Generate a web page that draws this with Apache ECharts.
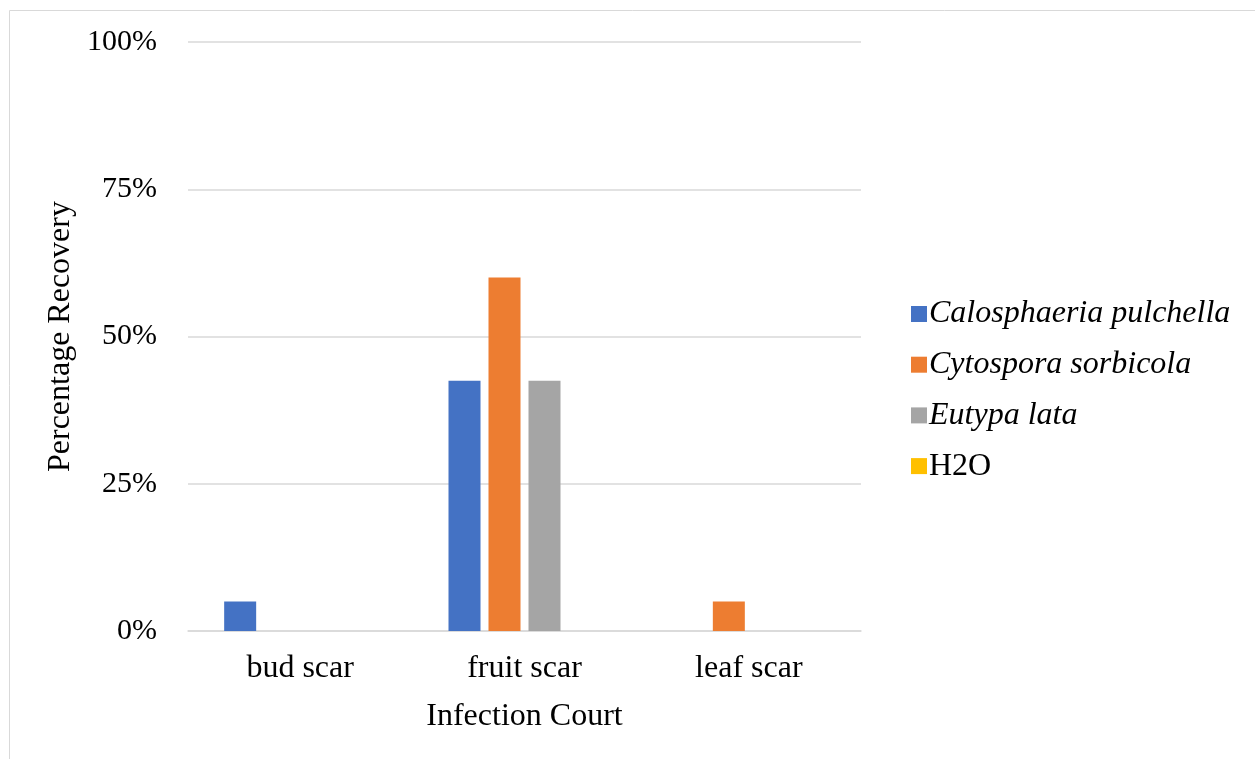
<!DOCTYPE html>
<html>
<head>
<meta charset="utf-8">
<script src="https://cdn.jsdelivr.net/npm/echarts@6/dist/echarts.min.js"></script>
<style>
  html, body { margin: 0; padding: 0; background: #fff; }
  #chart { width: 1255px; height: 759px; }
</style>
</head>
<body>
<div id="chart"></div>
<script>
// categories and values (percent)
const categories = ['bud scar', 'fruit scar', 'leaf scar'];
const seriesNames = ['Calosphaeria pulchella', 'Cytospora sorbicola', 'Eutypa lata', 'H2O'];
const calosphaeria = [5, 42.5, 0];
const cytospora = [0, 60, 5];
const eutypa = [0, 42.5, 0];
const h2o = [0, 0, 0];
const yTicks = [0, 25, 50, 75, 100];

const colors = ['#4472C4', '#ED7D31', '#A5A5A5', '#FFC000'];
const font = '"Liberation Serif", "Times New Roman", serif';
const italicNames = ['Calosphaeria pulchella', 'Cytospora sorbicola', 'Eutypa lata'];

const chart = echarts.init(document.getElementById('chart'));

const allValues = [calosphaeria, cytospora, eutypa, h2o];

let option = {
    animation: false,
    color: colors,
    textStyle: { fontFamily: font },
    graphic: [{
        type: 'rect',
        shape: { x: 9.5, y: 10.5, width: 2000, height: 2000 },
        style: { fill: 'none', stroke: '#d9d9d9', lineWidth: 1 },
        silent: true
    }],
    grid: {
        left: 188,
        right: 394,
        top: 42,
        bottom: 128
    },
    legend: {
        orient: 'vertical',
        left: 906,
        top: 293,
        itemWidth: 16,
        itemHeight: 16,
        itemGap: 18.7,
        icon: 'rect',
        data: seriesNames,
        formatter: function (name) {
            return italicNames.indexOf(name) >= 0 ? '{i|' + name + '}' : '{n|' + name + '}';
        },
        textStyle: {
            fontFamily: font,
            fontSize: 32,
            color: '#000',
            padding: [0, 0, 0, -3],
            rich: {
                i: { fontFamily: font, fontSize: 32, fontStyle: 'italic', color: '#000', lineHeight: 33 },
                n: { fontFamily: font, fontSize: 32, color: '#000', lineHeight: 33 }
            }
        }
    },
    xAxis: {
        type: 'category',
        data: categories,
        name: 'Infection Court',
        nameLocation: 'middle',
        nameGap: 70,
        nameTextStyle: { fontFamily: font, fontSize: 32, color: '#000' },
        axisLine: { lineStyle: { color: '#d9d9d9', width: 1.5 } },
        axisTick: { show: false },
        axisLabel: { fontFamily: font, fontSize: 32, color: '#000', margin: 22 }
    },
    yAxis: {
        type: 'value',
        min: 0,
        max: 100,
        interval: 25,
        name: 'Percentage Recovery',
        nameLocation: 'middle',
        nameGap: 106,
        nameTextStyle: { fontFamily: font, fontSize: 32, color: '#000' },
        axisLine: { show: false },
        axisTick: { show: false },
        splitLine: { lineStyle: { color: '#d9d9d9', width: 1.5 } },
        axisLabel: {
            fontFamily: font,
            fontSize: 30,
            color: '#000',
            margin: 31,
            formatter: function (v) { return yTicks.indexOf(v) >= 0 ? v + '%' : ''; }
        }
    },
    series: seriesNames.map(function (name, i) {
        return {
            name: name,
            type: 'bar',
            barWidth: 32,
            barGap: '25%',
            data: allValues[i]
        };
    })
};

chart.setOption(option);
</script>
</body>
</html>
